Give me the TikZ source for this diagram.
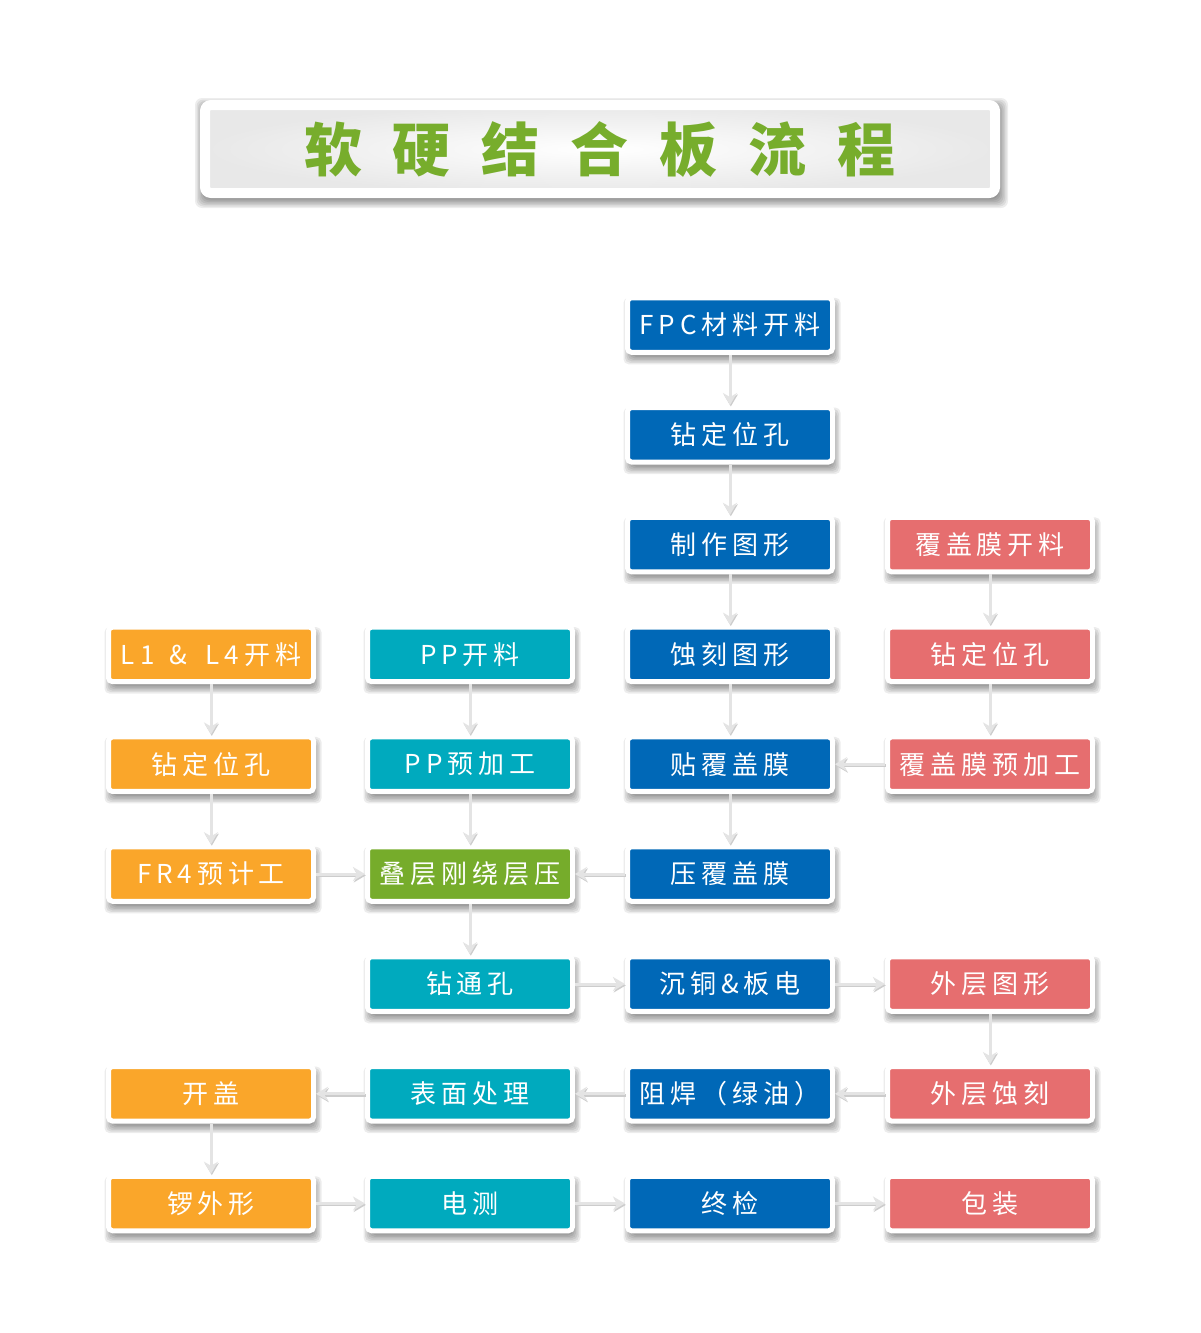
\documentclass[tikz,border=0pt]{standalone}
\usepackage{fontspec}
\usetikzlibrary{arrows.meta,calc,backgrounds}
\newfontfamily\cjkbox[LetterSpace=19]{Noto Sans CJK SC}
\newfontfamily\cjktitle{Noto Sans CJK SC}
\definecolor{cblue}{HTML}{0068B7}
\definecolor{corange}{HTML}{FAA62A}
\definecolor{cteal}{HTML}{00AABE}
\definecolor{cred}{HTML}{E66E6F}
\definecolor{cgreen}{HTML}{76AC2B}
\definecolor{ctitle}{HTML}{77AD2C}
\definecolor{carrow}{HTML}{E4E4E4}
\newcommand{\tsp}{\hspace{31pt}}
\begin{document}
\begin{tikzpicture}[x=1pt,y=-1pt,
  proc/.style={draw=white, line width=5pt, rounded corners=4pt,
    minimum width=205pt, minimum height=54.5pt, inner sep=0pt,
    text=white, font=\cjkbox\fontsize{26}{30}\selectfont},
  pblue/.style={proc, fill=cblue},
  porange/.style={proc, fill=corange},
  pteal/.style={proc, fill=cteal},
  pred/.style={proc, fill=cred},
  pgreen/.style={proc, fill=cgreen},
  shadowpiece/.style={fill=black, opacity=0.075, rounded corners=5pt},
  arr/.style={draw=carrow, line width=3pt,
    -{Stealth[length=12pt, width=14pt, inset=4pt]},
    preaction={draw=black!20, line width=3pt,
      transform canvas={shift={(0.8pt,-1.4pt)}}}},
  titlebox/.style={draw=white, line width=10pt, rounded corners=6pt,
    minimum width=790pt, minimum height=88pt, inner sep=0pt,
    shade, inner color=white, outer color=black!9,
    text=ctitle, font=\cjktitle\bfseries\fontsize{58}{62}\selectfont}
]
\useasboundingbox (0,0) rectangle (1200,1333);

\node[titlebox] (title) at (600,149) {软\tsp 硬\tsp 结\tsp 合\tsp 板\tsp 流\tsp 程};

% columns: 211, 470, 730, 990
\node[pblue] (fpc) at (730,325) {FPC材料开料};
\node[pblue] (czdw) at (730,434.8) {钻定位孔};
\node[pblue] (zztx) at (730,544.6) {制作图形};
\node[pred] (fgmkl) at (990,544.6) {覆盖膜开料};

\node[porange] (l1) at (211,654.4) {L1\hspace{4pt} \& \hspace{8pt}L4开料};
\node[pteal] (ppkl) at (470,654.4) {PP开料};
\node[pblue] (sktx) at (730,654.4) {蚀刻图形};
\node[pred] (zdwr) at (990,654.4) {钻定位孔};

\node[porange] (zdwo) at (211,764.2) {钻定位孔};
\node[pteal] (ppyjg) at (470,764.2) {PP预加工};
\node[pblue] (tfgm) at (730,764.2) {贴覆盖膜};
\node[pred] (fgmyjg) at (990,764.2) {覆盖膜预加工};

\node[porange] (fr4) at (211,874) {FR4预计工};
\node[pgreen] (dcyz) at (470,874) {叠层刚绕层压};
\node[pblue] (yfgm) at (730,874) {压覆盖膜};

\node[pteal] (ztk) at (470,984) {钻通孔};
\node[pblue] (ctbd) at (730,984) {沉铜\&板电};
\node[pred] (wctx) at (990,984) {外层图形};

\node[porange] (kg) at (211,1093.8) {开盖};
\node[pteal] (bmcl) at (470,1093.8) {表面处理};
\node[pblue] (zh) at (730,1093.8) {阻焊（绿油）};
\node[pred] (wcsk) at (990,1093.8) {外层蚀刻};

\node[porange] (lwx) at (211,1203.5) {锣外形};
\node[pteal] (dc) at (470,1203.5) {电测};
\node[pblue] (zj) at (730,1203.5) {终检};
\node[pred] (bz) at (990,1203.5) {包装};

% soft shadows behind the boxes
\begin{scope}[on background layer]
  \fill[white] (0,0) rectangle (1200,1333);
  \foreach \e in {0,1.5,...,9}
    \fill[shadowpiece, opacity=0.07, rounded corners=7pt]
      ($(title.north west)+(4-\e,7-\e)$) rectangle ($(title.south east)+(\e-1,\e+1)$);
  \foreach \n in {fpc,czdw,zztx,fgmkl,l1,ppkl,sktx,zdwr,zdwo,ppyjg,tfgm,fgmyjg,
                  fr4,dcyz,yfgm,ztk,ctbd,wctx,kg,bmcl,zh,wcsk,lwx,dc,zj,bz}
    \foreach \e in {0,1.5,...,7.5}
      \fill[shadowpiece]
        ($(\n.north west)+(6-\e,10-\e)$) rectangle ($(\n.south east)+(\e-2,2+\e)$);
\end{scope}

% connectors
\draw[arr] (fpc) -- (czdw);
\draw[arr] (czdw) -- (zztx);
\draw[arr] (zztx) -- (sktx);
\draw[arr] (sktx) -- (tfgm);
\draw[arr] (tfgm) -- (yfgm);
\draw[arr] (yfgm) -- (dcyz);

\draw[arr] (fgmkl) -- (zdwr);
\draw[arr] (zdwr) -- (fgmyjg);
\draw[arr] (fgmyjg) -- (tfgm);

\draw[arr] (l1) -- (zdwo);
\draw[arr] (zdwo) -- (fr4);
\draw[arr] (fr4) -- (dcyz);

\draw[arr] (ppkl) -- (ppyjg);
\draw[arr] (ppyjg) -- (dcyz);
\draw[arr] (dcyz) -- (ztk);
\draw[arr] (ztk) -- (ctbd);
\draw[arr] (ctbd) -- (wctx);
\draw[arr] (wctx) -- (wcsk);
\draw[arr] (wcsk) -- (zh);
\draw[arr] (zh) -- (bmcl);
\draw[arr] (bmcl) -- (kg);
\draw[arr] (kg) -- (lwx);
\draw[arr] (lwx) -- (dc);
\draw[arr] (dc) -- (zj);
\draw[arr] (zj) -- (bz);
\end{tikzpicture}
\end{document}
